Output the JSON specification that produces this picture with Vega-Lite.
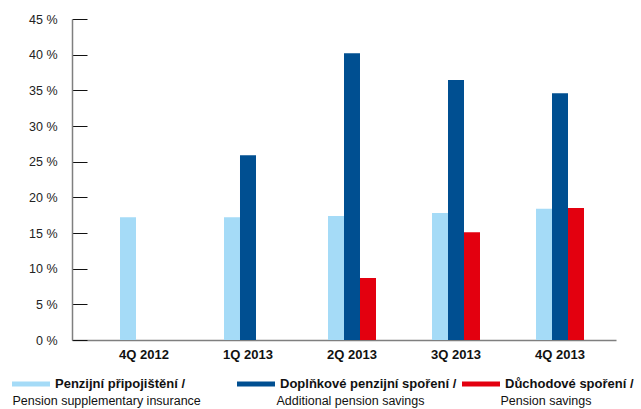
{
  "$schema": "https://vega.github.io/schema/vega-lite/v6.json",
  "width": 544,
  "height": 321,
  "autosize": "none",
  "padding": {"left": 72, "top": 19, "right": 25, "bottom": 69},
  "config": {
    "font": "Liberation Sans",
    "view": {"stroke": null}
  },
  "data": {
    "values": [
      {"q": "4Q 2012", "cz": "Penzijní připojištění /", "en": "Pension supplementary insurance", "value": 17.2},
      {"q": "1Q 2013", "cz": "Penzijní připojištění /", "en": "Pension supplementary insurance", "value": 17.2},
      {"q": "1Q 2013", "cz": "Doplňkové penzijní spoření /", "en": "Additional pension savings", "value": 25.9},
      {"q": "2Q 2013", "cz": "Penzijní připojištění /", "en": "Pension supplementary insurance", "value": 17.4},
      {"q": "2Q 2013", "cz": "Doplňkové penzijní spoření /", "en": "Additional pension savings", "value": 40.2},
      {"q": "2Q 2013", "cz": "Důchodové spoření /", "en": "Pension savings", "value": 8.7},
      {"q": "3Q 2013", "cz": "Penzijní připojištění /", "en": "Pension supplementary insurance", "value": 17.8},
      {"q": "3Q 2013", "cz": "Doplňkové penzijní spoření /", "en": "Additional pension savings", "value": 36.45},
      {"q": "3Q 2013", "cz": "Důchodové spoření /", "en": "Pension savings", "value": 15.1},
      {"q": "4Q 2013", "cz": "Penzijní připojištění /", "en": "Pension supplementary insurance", "value": 18.4},
      {"q": "4Q 2013", "cz": "Doplňkové penzijní spoření /", "en": "Additional pension savings", "value": 34.6},
      {"q": "4Q 2013", "cz": "Důchodové spoření /", "en": "Pension savings", "value": 18.5}
    ]
  },
  "mark": {"type": "bar", "strokeWidth": 0},
  "encoding": {
    "x": {
      "field": "q",
      "type": "nominal",
      "sort": ["4Q 2012", "1Q 2013", "2Q 2013", "3Q 2013", "4Q 2013"],
      "scale": {"paddingInner": 0.5385, "paddingOuter": 0.3846, "align": 0.6},
      "axis": {
        "title": null,
        "labelAngle": 0,
        "ticks": false,
        "domainColor": "#7f7f7f",
        "domainWidth": 1.5,
        "labelFont": "Liberation Sans",
        "labelFontSize": 13,
        "labelFontWeight": "bold",
        "labelColor": "#111111",
        "labelPadding": 8
      }
    },
    "xOffset": {
      "field": "cz",
      "type": "nominal",
      "scale": {"domain": ["Penzijní připojištění /", "Doplňkové penzijní spoření /", "Důchodové spoření /"], "paddingInner": 0, "paddingOuter": 0}
    },
    "y": {
      "field": "value",
      "type": "quantitative",
      "scale": {"domain": [0, 45], "nice": false},
      "axis": {
        "title": null,
        "values": [0, 5, 10, 15, 20, 25, 30, 35, 40, 45],
        "labelExpr": "datum.value + ' %'",
        "grid": false,
        "tickSize": -15,
        "tickColor": "#111111",
        "tickWidth": 1,
        "domainColor": "#7f7f7f",
        "domainWidth": 1.5,
        "labelFont": "Liberation Sans",
        "labelFontSize": 12.5,
        "labelColor": "#222222",
        "labelPadding": 30
      }
    },
    "color": {
      "field": "cz",
      "type": "nominal",
      "scale": {
        "domain": ["Penzijní připojištění /", "Doplňkové penzijní spoření /", "Důchodové spoření /"],
        "range": ["#a5dbf7", "#004f91", "#e3000f"]
      },
      "legend": {
        "title": null,
        "orient": "none",
        "legendX": -60,
        "legendY": 346,
        "direction": "horizontal",
        "symbolType": "M-1,-0.1316H1V0.1316H-1Z",
        "symbolSize": 1444,
        "symbolStrokeWidth": 0,
        "symbolOpacity": 1,
        "labelFont": "Liberation Sans",
        "labelFontSize": 13,
        "labelFontWeight": "bold",
        "labelColor": "#111111",
        "labelOffset": 5,
        "labelLimit": 400,
        "gridAlign": "all",
        "columnPadding": 5,
        "padding": 0
      }
    },
    "opacity": {
      "field": "en",
      "type": "nominal",
      "scale": {
        "domain": ["Pension supplementary insurance", "Additional pension savings", "Pension savings"],
        "range": [1, 1, 1]
      },
      "legend": {
        "title": null,
        "orient": "none",
        "legendX": -72,
        "legendY": 376,
        "direction": "horizontal",
        "symbolSize": 0,
        "symbolOpacity": 0,
        "symbolStrokeWidth": 0,
        "labelFont": "Liberation Sans",
        "labelFontSize": 12.5,
        "labelColor": "#111111",
        "labelOffset": 0,
        "labelLimit": 400,
        "gridAlign": "each",
        "columnPadding": 63,
        "padding": 0
      }
    }
  }
}
